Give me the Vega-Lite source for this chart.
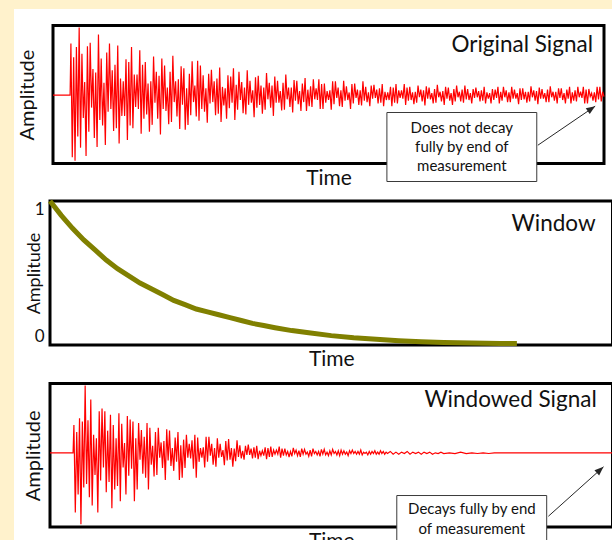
{
  "$schema": "https://vega.github.io/schema/vega-lite/v6.json",
  "background": "white",
  "padding": 0,
  "spacing": 0,
  "config": {
    "view": {"stroke": null},
    "font": "Lato",
    "axis": {"labelFont": "Lato", "titleFont": "Lato", "titleFontWeight": "normal", "titleColor": "#111111", "labelColor": "#111111", "grid": false, "domain": false, "ticks": false}
  },
  "datasets": {
    "orig": [
      {"t":0,"a":0},{"t":3.1,"a":0},
      {"t":3.25,"a":0.75},{"t":3.5,"a":-0.9},{"t":3.75,"a":0.55},{"t":4,"a":-0.95},{"t":4.25,"a":0.7},{"t":4.5,"a":-0.6},{"t":4.75,"a":0.98},{"t":5,"a":-0.76},
      {"t":5.25,"a":0.6},{"t":5.5,"a":-0.33},{"t":5.75,"a":0.19},{"t":6,"a":-0.88},{"t":6.25,"a":0.71},{"t":6.5,"a":-0.53},{"t":6.75,"a":0.76},{"t":7,"a":-0.18},
      {"t":7.25,"a":0.38},{"t":7.5,"a":-0.62},{"t":7.75,"a":0.33},{"t":8,"a":-0.75},{"t":8.25,"a":0.88},{"t":8.5,"a":-0.36},{"t":8.75,"a":0.53},{"t":9,"a":-0.44},
      {"t":9.25,"a":0.18},{"t":9.5,"a":-0.72},{"t":9.75,"a":0.62},{"t":10,"a":-0.24},{"t":10.25,"a":0.75},{"t":10.5,"a":-0.2},{"t":10.75,"a":0.36},{"t":11,"a":-0.52},
      {"t":11.25,"a":0.44},{"t":11.5,"a":-0.48},{"t":11.75,"a":0.72},{"t":12,"a":-0.7},{"t":12.25,"a":0.24},{"t":12.5,"a":-0.3},{"t":12.75,"a":0.2},{"t":13,"a":-0.3},
      {"t":13.25,"a":0.52},{"t":13.5,"a":-0.65},{"t":13.75,"a":0.48},{"t":14,"a":-0.44},{"t":14.25,"a":0.7},{"t":14.5,"a":-0.48},{"t":14.75,"a":0.3},{"t":15,"a":-0.17},
      {"t":15.25,"a":0.3},{"t":15.5,"a":-0.2},{"t":15.75,"a":0.65},{"t":16,"a":-0.56},{"t":16.25,"a":0.44},{"t":16.5,"a":-0.34},{"t":16.75,"a":0.48},{"t":17,"a":-0.28},
      {"t":17.25,"a":0.17},{"t":17.5,"a":-0.53},{"t":17.75,"a":0.2},{"t":18,"a":-0.43},{"t":18.25,"a":0.56},{"t":18.5,"a":-0.11},{"t":18.75,"a":0.34},{"t":19,"a":-0.34},
      {"t":19.25,"a":0.28},{"t":19.5,"a":-0.57},{"t":19.75,"a":0.53},{"t":20,"a":-0.2},{"t":20.25,"a":0.43},{"t":20.5,"a":-0.23},{"t":20.75,"a":0.11},{"t":21,"a":-0.42},
      {"t":21.25,"a":0.34},{"t":21.5,"a":-0.39},{"t":21.75,"a":0.57},{"t":22,"a":-0.1},{"t":22.25,"a":0.2},{"t":22.5,"a":-0.31},{"t":22.75,"a":0.23},{"t":23,"a":-0.49},
      {"t":23.25,"a":0.42},{"t":23.5,"a":-0.14},{"t":23.75,"a":0.39},{"t":24,"a":-0.5},{"t":24.25,"a":0.1},{"t":24.5,"a":-0.43},{"t":24.75,"a":0.31},{"t":25,"a":-0.29},
      {"t":25.25,"a":0.49},{"t":25.5,"a":-0.1},{"t":25.75,"a":0.14},{"t":26,"a":-0.31},{"t":26.25,"a":0.5},{"t":26.5,"a":-0.37},{"t":26.75,"a":0.43},{"t":27,"a":-0.2},
      {"t":27.25,"a":0.29},{"t":27.5,"a":-0.24},{"t":27.75,"a":0.1},{"t":28,"a":-0.4},{"t":28.25,"a":0.31},{"t":28.5,"a":-0.12},{"t":28.75,"a":0.37},{"t":29,"a":-0.1},
      {"t":29.25,"a":0.2},{"t":29.5,"a":-0.29},{"t":29.75,"a":0.24},{"t":30,"a":-0.27},{"t":30.25,"a":0.4},{"t":30.5,"a":-0.39},{"t":30.75,"a":0.12},{"t":31,"a":-0.15},
      {"t":31.25,"a":0.1},{"t":31.5,"a":-0.34},{"t":31.75,"a":0.29},{"t":32,"a":-0.19},{"t":32.25,"a":0.27},{"t":32.5,"a":-0.11},{"t":32.75,"a":0.39},{"t":33,"a":-0.36},
      {"t":33.25,"a":0.15},{"t":33.5,"a":-0.21},{"t":33.75,"a":0.34},{"t":34,"a":-0.07},{"t":34.25,"a":0.19},{"t":34.5,"a":-0.26},{"t":34.75,"a":0.11},{"t":35,"a":-0.28},
      {"t":35.25,"a":0.36},{"t":35.5,"a":-0.14},{"t":35.75,"a":0.21},{"t":36,"a":-0.11},{"t":36.25,"a":0.07},{"t":36.5,"a":-0.32},{"t":36.75,"a":0.26},{"t":37,"a":-0.18},
      {"t":37.25,"a":0.28},{"t":37.5,"a":-0.14},{"t":37.75,"a":0.14},{"t":38,"a":-0.27},{"t":38.25,"a":0.11},{"t":38.5,"a":-0.21},{"t":38.75,"a":0.32},{"t":39,"a":-0.06},
      {"t":39.25,"a":0.18},{"t":39.5,"a":-0.18},{"t":39.75,"a":0.14},{"t":40,"a":-0.3},{"t":40.25,"a":0.27},{"t":40.5,"a":-0.11},{"t":40.75,"a":0.21},{"t":41,"a":-0.11},
      {"t":41.25,"a":0.06},{"t":41.5,"a":-0.22},{"t":41.75,"a":0.18},{"t":42,"a":-0.21},{"t":42.25,"a":0.3},{"t":42.5,"a":-0.06},{"t":42.75,"a":0.11},{"t":43,"a":-0.17},
      {"t":43.25,"a":0.11},{"t":43.5,"a":-0.25},{"t":43.75,"a":0.22},{"t":44,"a":-0.08},{"t":44.25,"a":0.21},{"t":44.5,"a":-0.13},{"t":44.75,"a":0.06},{"t":45,"a":-0.23},
      {"t":45.25,"a":0.17},{"t":45.5,"a":-0.1},{"t":45.75,"a":0.25},{"t":46,"a":-0.23},{"t":46.25,"a":0.08},{"t":46.5,"a":-0.16},{"t":46.75,"a":0.13},{"t":47,"a":-0.17},
      {"t":47.25,"a":0.23},{"t":47.5,"a":-0.06},{"t":47.75,"a":0.1},{"t":48,"a":-0.07},{"t":48.25,"a":0.23},{"t":48.5,"a":-0.2},{"t":48.75,"a":0.16},{"t":49,"a":-0.2},
      {"t":49.25,"a":0.17},{"t":49.5,"a":-0.11},{"t":49.75,"a":0.06},{"t":50,"a":-0.07},{"t":50.25,"a":0.07},{"t":50.5,"a":-0.21},{"t":50.75,"a":0.2},{"t":51,"a":-0.13},
      {"t":51.25,"a":0.2},{"t":51.5,"a":-0.04},{"t":51.75,"a":0.11},{"t":52,"a":-0.16},{"t":52.25,"a":0.07},{"t":52.5,"a":-0.17},{"t":52.75,"a":0.21},{"t":53,"a":-0.08},
      {"t":53.25,"a":0.13},{"t":53.5,"a":-0.07},{"t":53.75,"a":0.04},{"t":54,"a":-0.2},{"t":54.25,"a":0.16},{"t":54.5,"a":-0.12},{"t":54.75,"a":0.17},{"t":55,"a":-0.04},
      {"t":55.25,"a":0.08},{"t":55.5,"a":-0.14},{"t":55.75,"a":0.07},{"t":56,"a":-0.15},{"t":56.25,"a":0.2},{"t":56.5,"a":-0.08},{"t":56.75,"a":0.12},{"t":57,"a":-0.1},
      {"t":57.25,"a":0.04},{"t":57.5,"a":-0.16},{"t":57.75,"a":0.14},{"t":58,"a":-0.05},{"t":58.25,"a":0.15},{"t":58.5,"a":-0.04},{"t":58.75,"a":0.08},{"t":59,"a":-0.12},
      {"t":59.25,"a":0.1},{"t":59.5,"a":-0.11},{"t":59.75,"a":0.16},{"t":60,"a":-0.16},{"t":60.25,"a":0.05},{"t":60.5,"a":-0.07},{"t":60.75,"a":0.04},{"t":61,"a":-0.07},
      {"t":61.25,"a":0.12},{"t":61.5,"a":-0.16},{"t":61.75,"a":0.11},{"t":62,"a":-0.11},{"t":62.25,"a":0.16},{"t":62.5,"a":-0.12},{"t":62.75,"a":0.07},{"t":63,"a":-0.04},
      {"t":63.25,"a":0.07},{"t":63.5,"a":-0.05},{"t":63.75,"a":0.16},{"t":64,"a":-0.14},{"t":64.25,"a":0.11},{"t":64.5,"a":-0.08},{"t":64.75,"a":0.12},{"t":65,"a":-0.07},
      {"t":65.25,"a":0.04},{"t":65.5,"a":-0.13},{"t":65.75,"a":0.05},{"t":66,"a":-0.11},{"t":66.25,"a":0.14},{"t":66.5,"a":-0.03},{"t":66.75,"a":0.08},{"t":67,"a":-0.09},
      {"t":67.25,"a":0.07},{"t":67.5,"a":-0.15},{"t":67.75,"a":0.13},{"t":68,"a":-0.05},{"t":68.25,"a":0.11},{"t":68.5,"a":-0.06},{"t":68.75,"a":0.03},{"t":69,"a":-0.12},
      {"t":69.25,"a":0.09},{"t":69.5,"a":-0.11},{"t":69.75,"a":0.15},{"t":70,"a":-0.03},{"t":70.25,"a":0.05},{"t":70.5,"a":-0.09},{"t":70.75,"a":0.06},{"t":71,"a":-0.14},
      {"t":71.25,"a":0.12},{"t":71.5,"a":-0.05},{"t":71.75,"a":0.11},{"t":72,"a":-0.08},{"t":72.25,"a":0.03},{"t":72.5,"a":-0.14},{"t":72.75,"a":0.09},{"t":73,"a":-0.09},
      {"t":73.25,"a":0.14},{"t":73.5,"a":-0.03},{"t":73.75,"a":0.05},{"t":74,"a":-0.09},{"t":74.25,"a":0.08},{"t":74.5,"a":-0.11},{"t":74.75,"a":0.14},{"t":75,"a":-0.06},
      {"t":75.25,"a":0.09},{"t":75.5,"a":-0.07},{"t":75.75,"a":0.03},{"t":76,"a":-0.12},{"t":76.25,"a":0.09},{"t":76.5,"a":-0.04},{"t":76.75,"a":0.11},{"t":77,"a":-0.03},
      {"t":77.25,"a":0.06},{"t":77.5,"a":-0.09},{"t":77.75,"a":0.07},{"t":78,"a":-0.08},{"t":78.25,"a":0.12},{"t":78.5,"a":-0.12},{"t":78.75,"a":0.04},{"t":79,"a":-0.05},
      {"t":79.25,"a":0.03},{"t":79.5,"a":-0.12},{"t":79.75,"a":0.09},{"t":80,"a":-0.07},{"t":80.25,"a":0.08},{"t":80.5,"a":-0.04},{"t":80.75,"a":0.12},{"t":81,"a":-0.12},
      {"t":81.25,"a":0.05},{"t":81.5,"a":-0.08},{"t":81.75,"a":0.12},{"t":82,"a":-0.03},{"t":82.25,"a":0.07},{"t":82.5,"a":-0.1},{"t":82.75,"a":0.04},{"t":83,"a":-0.1},
      {"t":83.25,"a":0.12},{"t":83.5,"a":-0.05},{"t":83.75,"a":0.08},{"t":84,"a":-0.05},{"t":84.25,"a":0.03},{"t":84.5,"a":-0.13},{"t":84.75,"a":0.1},{"t":85,"a":-0.07},
      {"t":85.25,"a":0.1},{"t":85.5,"a":-0.06},{"t":85.75,"a":0.05},{"t":86,"a":-0.11},{"t":86.25,"a":0.05},{"t":86.5,"a":-0.09},{"t":86.75,"a":0.13},{"t":87,"a":-0.03},
      {"t":87.25,"a":0.07},{"t":87.5,"a":-0.08},{"t":87.75,"a":0.06},{"t":88,"a":-0.13},{"t":88.25,"a":0.11},{"t":88.5,"a":-0.05},{"t":88.75,"a":0.09},{"t":89,"a":-0.05},
      {"t":89.25,"a":0.03},{"t":89.5,"a":-0.1},{"t":89.75,"a":0.08},{"t":90,"a":-0.1},{"t":90.25,"a":0.13},{"t":90.5,"a":-0.03},{"t":90.75,"a":0.05},{"t":91,"a":-0.08},
      {"t":91.25,"a":0.05},{"t":91.5,"a":-0.12},{"t":91.75,"a":0.1},{"t":92,"a":-0.04},{"t":92.25,"a":0.1},{"t":92.5,"a":-0.07},{"t":92.75,"a":0.03},{"t":93,"a":-0.12},
      {"t":93.25,"a":0.08},{"t":93.5,"a":-0.05},{"t":93.75,"a":0.12},{"t":94,"a":-0.12},{"t":94.25,"a":0.04},{"t":94.5,"a":-0.08},{"t":94.75,"a":0.07},{"t":95,"a":-0.09},
      {"t":95.25,"a":0.12},{"t":95.5,"a":-0.03},{"t":95.75,"a":0.05},{"t":96,"a":-0.04},{"t":96.25,"a":0.12},{"t":96.5,"a":-0.12},{"t":96.75,"a":0.08},{"t":97,"a":-0.12},
      {"t":97.25,"a":0.09},{"t":97.5,"a":-0.02},{"t":97.75,"a":0.03},{"t":98,"a":-0.08},{"t":98.25,"a":0.04},{"t":98.5,"a":-0.1},{"t":98.75,"a":0.12},{"t":99,"a":-0.06},
      {"t":99.25,"a":0.12},{"t":99.5,"a":-0.09},{"t":99.75,"a":0.05},{"t":100,"a":-0.02}
    ],
    "win": [
      {"t":0,"w":1.0},{"t":2,"w":0.9},{"t":4,"w":0.81},{"t":6,"w":0.73},{"t":8,"w":0.66},{"t":10,"w":0.59},
      {"t":12,"w":0.53},{"t":14,"w":0.48},{"t":16,"w":0.43},{"t":18,"w":0.39},{"t":20,"w":0.35},{"t":22,"w":0.31},
      {"t":24,"w":0.28},{"t":26,"w":0.25},{"t":28,"w":0.23},{"t":30,"w":0.21},{"t":32,"w":0.19},{"t":34,"w":0.17},
      {"t":36,"w":0.15},{"t":38,"w":0.135},{"t":40,"w":0.12},{"t":43,"w":0.1},{"t":46,"w":0.085},{"t":50,"w":0.065},
      {"t":54,"w":0.05},{"t":58,"w":0.04},{"t":62,"w":0.03},{"t":66,"w":0.023},{"t":70,"w":0.018},{"t":75,"w":0.014},
      {"t":80,"w":0.011},{"t":83,"w":0.01}
    ],
    "wsig": [
      {"t":0,"a":0},{"t":4.1,"a":0},
      {"t":4.25,"a":0.4},{"t":4.5,"a":-0.86},{"t":4.75,"a":0.3},{"t":5,"a":-0.6},{"t":5.25,"a":0.5},{"t":5.5,"a":-1.03},{"t":5.75,"a":0.45},{"t":6,"a":-0.5},
      {"t":6.25,"a":0.97},{"t":6.5,"a":-0.45},{"t":6.75,"a":0.47},{"t":7,"a":-0.64},{"t":7.25,"a":0.77},{"t":7.5,"a":-0.76},{"t":7.75,"a":0.26},{"t":8,"a":-0.32},
      {"t":8.25,"a":0.21},{"t":8.5,"a":-0.86},{"t":8.75,"a":0.6},{"t":9,"a":-0.4},{"t":9.25,"a":0.64},{"t":9.5,"a":-0.21},{"t":9.75,"a":0.6},{"t":10,"a":-0.57},
      {"t":10.25,"a":0.32},{"t":10.5,"a":-0.42},{"t":10.75,"a":0.55},{"t":11,"a":-0.8},{"t":11.25,"a":0.4},{"t":11.5,"a":-0.53},{"t":11.75,"a":0.21},{"t":12,"a":-0.48},
      {"t":12.25,"a":0.57},{"t":12.5,"a":-0.7},{"t":12.75,"a":0.42},{"t":13,"a":-0.21},{"t":13.25,"a":0.14},{"t":13.5,"a":-0.6},{"t":13.75,"a":0.53},{"t":14,"a":-0.33},
      {"t":14.25,"a":0.48},{"t":14.5,"a":-0.23},{"t":14.75,"a":0.45},{"t":15,"a":-0.7},{"t":15.25,"a":0.21},{"t":15.5,"a":-0.53},{"t":15.75,"a":0.43},{"t":16,"a":-0.1},
      {"t":16.25,"a":0.33},{"t":16.5,"a":-0.3},{"t":16.75,"a":0.23},{"t":17,"a":-0.36},{"t":17.25,"a":0.43},{"t":17.5,"a":-0.53},{"t":17.75,"a":0.36},{"t":18,"a":-0.17},
      {"t":18.25,"a":0.1},{"t":18.5,"a":-0.34},{"t":18.75,"a":0.3},{"t":19,"a":-0.32},{"t":19.25,"a":0.36},{"t":19.5,"a":-0.07},{"t":19.75,"a":0.15},{"t":20,"a":-0.22},
      {"t":20.25,"a":0.17},{"t":20.5,"a":-0.39},{"t":20.75,"a":0.34},{"t":21,"a":-0.11},{"t":21.25,"a":0.32},{"t":21.5,"a":-0.19},{"t":21.75,"a":0.07},{"t":22,"a":-0.26},
      {"t":22.25,"a":0.22},{"t":22.5,"a":-0.13},{"t":22.75,"a":0.3},{"t":23,"a":-0.39},{"t":23.25,"a":0.11},{"t":23.5,"a":-0.36},{"t":23.75,"a":0.19},{"t":24,"a":-0.22},
      {"t":24.25,"a":0.26},{"t":24.5,"a":-0.07},{"t":24.75,"a":0.13},{"t":25,"a":-0.08},{"t":25.25,"a":0.18},{"t":25.5,"a":-0.23},{"t":25.75,"a":0.26},{"t":26,"a":-0.36},
      {"t":26.25,"a":0.22},{"t":26.5,"a":-0.13},{"t":26.75,"a":0.07},{"t":27,"a":-0.07},{"t":27.25,"a":0.08},{"t":27.5,"a":-0.21},{"t":27.75,"a":0.23},{"t":28,"a":-0.13},
      {"t":28.25,"a":0.23},{"t":28.5,"a":-0.04},{"t":28.75,"a":0.13},{"t":29,"a":-0.17},{"t":29.25,"a":0.07},{"t":29.5,"a":-0.2},{"t":29.75,"a":0.21},{"t":30,"a":-0.07},
      {"t":30.25,"a":0.13},{"t":30.5,"a":-0.06},{"t":30.75,"a":0.04},{"t":31,"a":-0.18},{"t":31.25,"a":0.17},{"t":31.5,"a":-0.11},{"t":31.75,"a":0.2},{"t":32,"a":-0.1},
      {"t":32.25,"a":0.07},{"t":32.5,"a":-0.2},{"t":32.75,"a":0.06},{"t":33,"a":-0.12},{"t":33.25,"a":0.18},{"t":33.5,"a":-0.06},{"t":33.75,"a":0.11},{"t":34,"a":-0.08},
      {"t":34.25,"a":0.03},{"t":34.5,"a":-0.1},{"t":34.75,"a":0.1},{"t":35,"a":-0.03},{"t":35.25,"a":0.12},{"t":35.5,"a":-0.03},{"t":35.75,"a":0.06},{"t":36,"a":-0.08},
      {"t":36.25,"a":0.08},{"t":36.5,"a":-0.07},{"t":36.75,"a":0.1},{"t":37,"a":-0.09},{"t":37.25,"a":0.03},{"t":37.5,"a":-0.04},{"t":37.75,"a":0.03},{"t":38,"a":-0.04},
      {"t":38.25,"a":0.08},{"t":38.5,"a":-0.09},{"t":38.75,"a":0.07},{"t":39,"a":-0.06},{"t":39.25,"a":0.09},{"t":39.5,"a":-0.06},{"t":39.75,"a":0.04},{"t":40,"a":-0.02},
      {"t":40.25,"a":0.04},{"t":40.5,"a":-0.02},{"t":40.75,"a":0.09},{"t":41,"a":-0.07},{"t":41.25,"a":0.06},{"t":41.5,"a":-0.04},{"t":41.75,"a":0.06},{"t":42,"a":-0.03},
      {"t":42.25,"a":0.02},{"t":42.5,"a":-0.06},{"t":42.75,"a":0.02},{"t":43,"a":-0.05},{"t":43.25,"a":0.07},{"t":43.5,"a":-0.01},{"t":43.75,"a":0.04},{"t":44,"a":-0.04},
      {"t":44.25,"a":0.03},{"t":44.5,"a":-0.06},{"t":44.75,"a":0.06},{"t":45,"a":-0.02},{"t":45.25,"a":0.05},{"t":45.5,"a":-0.02},{"t":45.75,"a":0.01},{"t":46,"a":-0.05},
      {"t":46.25,"a":0.04},{"t":46.5,"a":-0.05},{"t":46.75,"a":0.06},{"t":47,"a":-0.01},{"t":47.25,"a":0.02},{"t":47.5,"a":-0.03},{"t":47.75,"a":0.02},{"t":48,"a":-0.05},
      {"t":48.25,"a":0.05},{"t":48.5,"a":-0.02},{"t":48.75,"a":0.05},{"t":49,"a":-0.03},{"t":49.25,"a":0.01},{"t":49.5,"a":-0.04},{"t":49.75,"a":0.03},{"t":50,"a":-0.03},
      {"t":50.25,"a":0.05},{"t":50.5,"a":-0.01},{"t":50.75,"a":0.02},{"t":51,"a":-0.03},{"t":51.25,"a":0.03},{"t":51.5,"a":-0.04},{"t":51.75,"a":0.04},{"t":52,"a":-0.02},
      {"t":52.25,"a":0.03},{"t":52.5,"a":-0.02},{"t":52.75,"a":0.01},{"t":53,"a":-0.04},{"t":53.25,"a":0.03},{"t":53.5,"a":-0.01},{"t":53.75,"a":0.04},{"t":54,"a":-0.01},
      {"t":54.25,"a":0.02},{"t":54.5,"a":-0.02},{"t":54.75,"a":0.02},{"t":55,"a":-0.02},{"t":55.25,"a":0.04},{"t":55.5,"a":-0.03},{"t":55.75,"a":0.01},{"t":56,"a":-0.01},
      {"t":56.25,"a":0.01},{"t":56.5,"a":-0.03},{"t":56.75,"a":0.02},{"t":57,"a":-0.02},{"t":57.25,"a":0.02},{"t":57.5,"a":-0.01},{"t":57.75,"a":0.03},{"t":58,"a":-0.02},
      {"t":58.25,"a":0.01},{"t":58.5,"a":-0.02},{"t":58.75,"a":0.03},{"t":59,"a":-0.01},{"t":59.25,"a":0.02},{"t":59.5,"a":-0.02},{"t":59.75,"a":0.01},{"t":60,"a":-0.01},
      {"t":60.5,"a":0.02},{"t":61,"a":-0.02},{"t":61.5,"a":0.01},{"t":62,"a":-0.02},{"t":62.5,"a":0.01},{"t":63,"a":-0.01},{"t":63.5,"a":0.02},{"t":64,"a":-0.02},
      {"t":64.5,"a":0.01},{"t":65,"a":-0.01},{"t":65.5,"a":0.01},{"t":66,"a":-0.02},{"t":66.5,"a":0.01},{"t":67,"a":-0.01},{"t":67.5,"a":0.01},{"t":68,"a":-0.02},
      {"t":68.5,"a":0},{"t":69,"a":-0.01},{"t":69.5,"a":0.01},{"t":70,"a":-0.01},{"t":71,"a":0},{"t":72,"a":-0.01},{"t":73,"a":0.01},{"t":74,"a":-0.01},
      {"t":75,"a":0},{"t":76,"a":-0.01},{"t":77,"a":0},{"t":78,"a":-0.01},{"t":79,"a":0},{"t":80,"a":0},{"t":100,"a":0}
    ]
  },
  "vconcat": [
    {"width": 612, "height": 9, "view": {"fill": "#FFF2CC", "stroke": null},
     "data": {"values": [{}]}, "mark": {"type": "point", "size": 0, "opacity": 0}, "encoding": {}},
    {"spacing": 0, "hconcat": [
      {"width": 14, "height": 560, "view": {"fill": "#FFF2CC", "stroke": null},
       "data": {"values": [{}]}, "mark": {"type": "point", "size": 0, "opacity": 0}, "encoding": {}},
      {"spacing": -1.5, "align": "none", "vconcat": [
        {"width": 1, "height": 16, "data": {"values": [{}]}, "mark": {"type": "point", "size": 0, "opacity": 0}, "encoding": {}},
        {"spacing": 0, "hconcat": [
          {"width": 1.2, "height": 1, "data": {"values": [{}]}, "mark": {"type": "point", "size": 0, "opacity": 0}, "encoding": {}},
          {"width": 551, "height": 138,
           "view": {"stroke": "black", "strokeWidth": 3, "fill": "white"},
           "layer": [
             {"data": {"name": "orig"},
              "mark": {"type": "line", "color": "#ff0000", "strokeWidth": 1.2},
              "encoding": {
                "x": {"field": "t", "type": "quantitative", "scale": {"domain": [0, 100], "nice": false, "zero": false},
                      "axis": {"title": "Time", "labels": false, "titleFontSize": 21, "titlePadding": 3.7, "minExtent": 0, "maxExtent": 0}},
                "y": {"field": "a", "type": "quantitative", "scale": {"domain": [-0.99, 1.01], "nice": false, "zero": false},
                      "axis": {"title": "Amplitude", "labels": false, "titleFontSize": 20, "titlePadding": 15.2, "minExtent": 0, "maxExtent": 0}}
              }},
             {"data": {"values": [{"label": "Original Signal"}]},
              "mark": {"type": "text", "align": "right", "baseline": "alphabetic", "font": "Lato", "fontSize": 22.5, "color": "#111111"},
              "encoding": {"x": {"datum": 98.0}, "y": {"datum": 0.619}, "text": {"field": "label"}}},
             {"data": {"values": [{"note": "box"}]},
              "mark": {"type": "rect", "fill": "white", "stroke": "#3a3a3a", "strokeWidth": 1},
              "encoding": {"x": {"datum": 60.6}, "x2": {"datum": 87.8}, "y": {"datum": -0.251}, "y2": {"datum": -1.251}}},
             {"data": {"values": [{"note": "text"}]},
              "mark": {"type": "text", "align": "center", "baseline": "middle", "font": "Lato", "fontSize": 15, "lineHeight": 19, "color": "#111111"},
              "encoding": {"x": {"datum": 74.2}, "y": {"datum": -0.472}, "text": {"value": ["Does not decay", "fully by end of", "measurement"]}}},
             {"data": {"values": [{"note": "arrow"}]},
              "mark": {"type": "rule", "color": "#262626", "strokeWidth": 1},
              "encoding": {"x": {"datum": 88.0}, "y": {"datum": -0.725}, "x2": {"datum": 98.4}, "y2": {"datum": -0.159}}},
             {"data": {"values": [{"note": "head"}]},
              "mark": {"type": "point", "shape": "M0,0L0.7,1.8L-0.7,1.8Z", "filled": true, "color": "#262626", "opacity": 1, "size": 100, "angle": 55.8},
              "encoding": {"x": {"datum": 98.4}, "y": {"datum": -0.159}}}
           ]}
        ]},
        {"spacing": 9.5, "align": "none", "vconcat": [
          {"spacing": 0, "hconcat": [
            {"width": 8.6, "height": 1, "data": {"values": [{}]}, "mark": {"type": "point", "size": 0, "opacity": 0}, "encoding": {}},
            {"width": 562.5, "height": 144,
             "view": {"stroke": "black", "strokeWidth": 3, "fill": "white"},
             "layer": [
               {"data": {"name": "win"},
                "mark": {"type": "line", "color": "#808000", "strokeWidth": 5},
                "encoding": {
                  "x": {"field": "t", "type": "quantitative", "scale": {"domain": [0, 100], "nice": false, "zero": false},
                        "axis": {"title": "Time", "labels": false, "titleFontSize": 21, "titlePadding": 3.7, "minExtent": 0, "maxExtent": 0}},
                  "y": {"field": "w", "type": "quantitative", "scale": {"domain": [0, 1], "nice": false},
                        "axis": {"title": "Amplitude", "values": [0, 1], "format": "d", "labelFlush": true, "labelFlushOffset": 0, "tickSize": 0, "labelPadding": 5.8, "labelFontSize": 17, "titleFontSize": 18, "titleX": -6.7}}
                }},
               {"data": {"values": [{"label": "Window"}]},
                "mark": {"type": "text", "align": "right", "baseline": "alphabetic", "font": "Lato", "fontSize": 22.5, "color": "#111111"},
                "encoding": {"x": {"datum": 97.0}, "y": {"datum": 0.794}, "text": {"field": "label"}}}
             ]}
          ]},
          {"spacing": 0, "hconcat": [
            {"width": 7.1, "height": 1, "data": {"values": [{}]}, "mark": {"type": "point", "size": 0, "opacity": 0}, "encoding": {}},
            {"width": 562.5, "height": 143.5,
             "view": {"stroke": "black", "strokeWidth": 3, "fill": "white"},
             "layer": [
               {"data": {"name": "wsig"},
                "mark": {"type": "line", "color": "#ff0000", "strokeWidth": 1.2},
                "encoding": {
                  "x": {"field": "t", "type": "quantitative", "scale": {"domain": [0, 100], "nice": false, "zero": false},
                        "axis": {"title": "Time", "labels": false, "titleFontSize": 21, "titlePadding": 3.7, "minExtent": 0, "maxExtent": 0}},
                  "y": {"field": "a", "type": "quantitative", "scale": {"domain": [-1.07, 1.0], "nice": false, "zero": false},
                        "axis": {"title": "Amplitude", "labels": false, "titleFontSize": 20, "titlePadding": 6.2, "minExtent": 0, "maxExtent": 0}}
                }},
               {"data": {"values": [{"label": "Windowed Signal"}]},
                "mark": {"type": "text", "align": "right", "baseline": "alphabetic", "font": "Lato", "fontSize": 22.5, "color": "#111111"},
                "encoding": {"x": {"datum": 97.2}, "y": {"datum": 0.664}, "text": {"field": "label"}}},
               {"data": {"values": [{"note": "box"}]},
                "mark": {"type": "rect", "fill": "white", "stroke": "#3a3a3a", "strokeWidth": 1},
                "encoding": {"x": {"datum": 61.65}, "x2": {"datum": 88.3}, "y": {"datum": -0.616}, "y2": {"datum": -1.54}}},
               {"data": {"values": [{"note": "text"}]},
                "mark": {"type": "text", "align": "center", "baseline": "middle", "font": "Lato", "fontSize": 15, "lineHeight": 20, "color": "#111111"},
                "encoding": {"x": {"datum": 75.0}, "y": {"datum": -0.808}, "text": {"value": ["Decays fully by end", "of measurement"]}}},
               {"data": {"values": [{"note": "arrow"}]},
                "mark": {"type": "rule", "color": "#262626", "strokeWidth": 1},
                "encoding": {"x": {"datum": 88.6}, "y": {"datum": -0.915}, "x2": {"datum": 98.4}, "y2": {"datum": -0.202}}},
               {"data": {"values": [{"note": "head"}]},
                "mark": {"type": "point", "shape": "M0,0L0.7,1.8L-0.7,1.8Z", "filled": true, "color": "#262626", "opacity": 1, "size": 100, "angle": 48.1},
                "encoding": {"x": {"datum": 98.4}, "y": {"datum": -0.202}}}
             ]}
          ]}
        ]}
      ]}
    ]}
  ]
}
